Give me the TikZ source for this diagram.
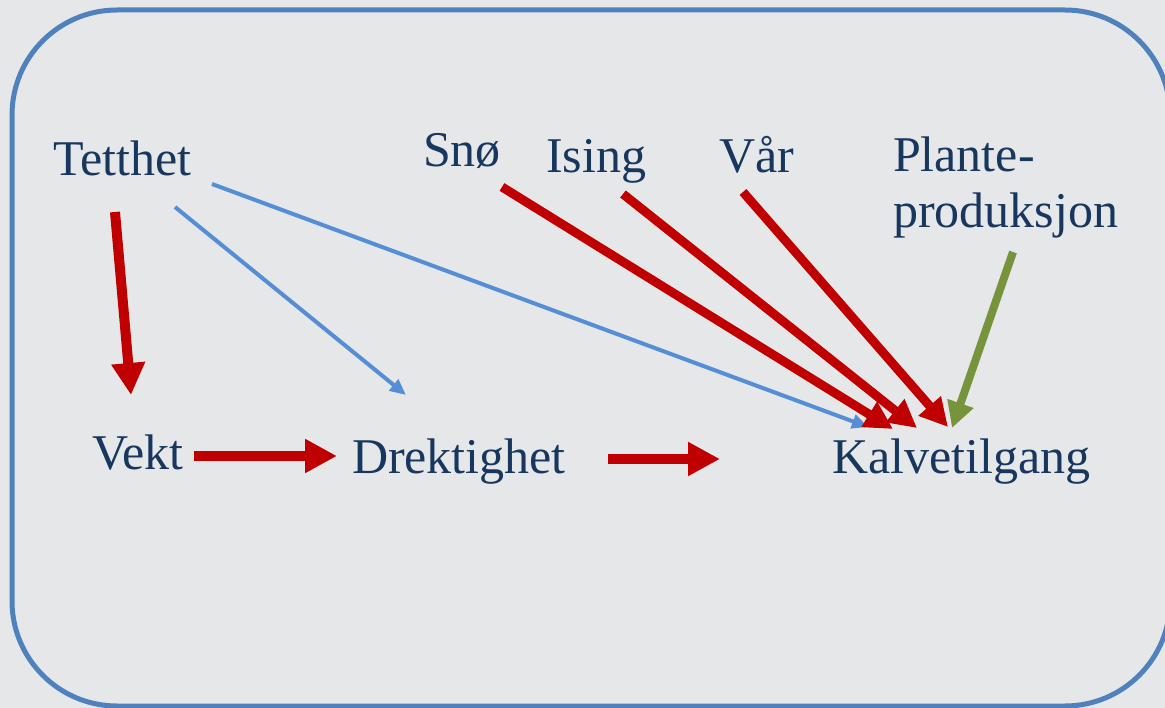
\documentclass[tikz,border=0pt]{standalone}
\usepackage{fontspec}
\setmainfont{Liberation Serif}
\usetikzlibrary{arrows.meta,calc}
\definecolor{bg}{HTML}{E6E7E9}
\definecolor{frameblue}{HTML}{4F81BD}
\definecolor{navy}{HTML}{17375E}
\definecolor{arrred}{HTML}{C00000}
\definecolor{arrblue}{HTML}{558ED5}
\definecolor{arrgreen}{HTML}{77933C}
\tikzset{
  lbl/.style={anchor=base west, inner sep=0pt, outer sep=0pt, text=navy,
    font=\fontsize{50}{56}\selectfont},
  redbig/.style={draw=arrred, line width=10pt, -{Triangle[length=32pt,width=32pt]}},
  reddiag/.style={draw=arrred, line width=9pt, -{Triangle[length=28pt,width=28pt]}},
  bluethin/.style={draw=arrblue, line width=4pt, -{Triangle[length=16pt,width=14pt]}},
  greenarr/.style={draw=arrgreen, line width=8pt, -{Triangle[length=26pt,width=26pt]}},
}
\begin{document}
\begin{tikzpicture}[x=1pt,y=-1pt]
\useasboundingbox (0,0) rectangle (1165,708);
\clip (0,0) rectangle (1165,708);
\fill[bg] (0,0) rectangle (1165,708);
\draw[frameblue, line width=5pt, rounded corners=105pt] (12,10) rectangle (1170,706);

\node[lbl] (tetthet) at (53,176) {Tetthet};
\node[lbl] (sno) at (423,167) {Snø};
\node[lbl] (ising) at (546,173) {Ising};
\node[lbl] (var) at (719,173) {Vår};
\node[lbl, align=left] (plante) at (893,228) {Plante-\\produksjon};
\node[lbl] (vekt) at (92,470) {Vekt};
\node[lbl] (drek) at (352,474) {Drektighet};
\node[lbl] (kalv) at (832,474) {Kalvetilgang};
\coordinate (free) at (720,459);

\draw[redbig] ($(tetthet.base west)+(62,36)$) -- ($(vekt.base west)+(39,-75)$);
\draw[bluethin] ($(tetthet.base west)+(122,31)$) -- ($(drek.base west)+(54,-79)$);
\draw[bluethin] ($(tetthet.base west)+(159,8)$) -- ($(kalv.base west)+(36,-47)$);
\draw[redbig] ($(vekt.base west)+(102,-14)$) -- ($(drek.base west)+(-15,-18)$);
\draw[redbig] ($(drek.base west)+(256,-15)$) -- (free);
\draw[reddiag] ($(sno.base west)+(79,20)$) -- ($(kalv.base west)+(61,-45)$);
\draw[reddiag] ($(ising.base west)+(77,21)$) -- ($(kalv.base west)+(85,-46)$);
\draw[reddiag] ($(var.base west)+(24,19)$) -- ($(kalv.base west)+(116,-47)$);
\draw[greenarr] ($(plante.base west)+(120,24)$) -- ($(kalv.base west)+(120,-46)$);
\end{tikzpicture}
\end{document}
